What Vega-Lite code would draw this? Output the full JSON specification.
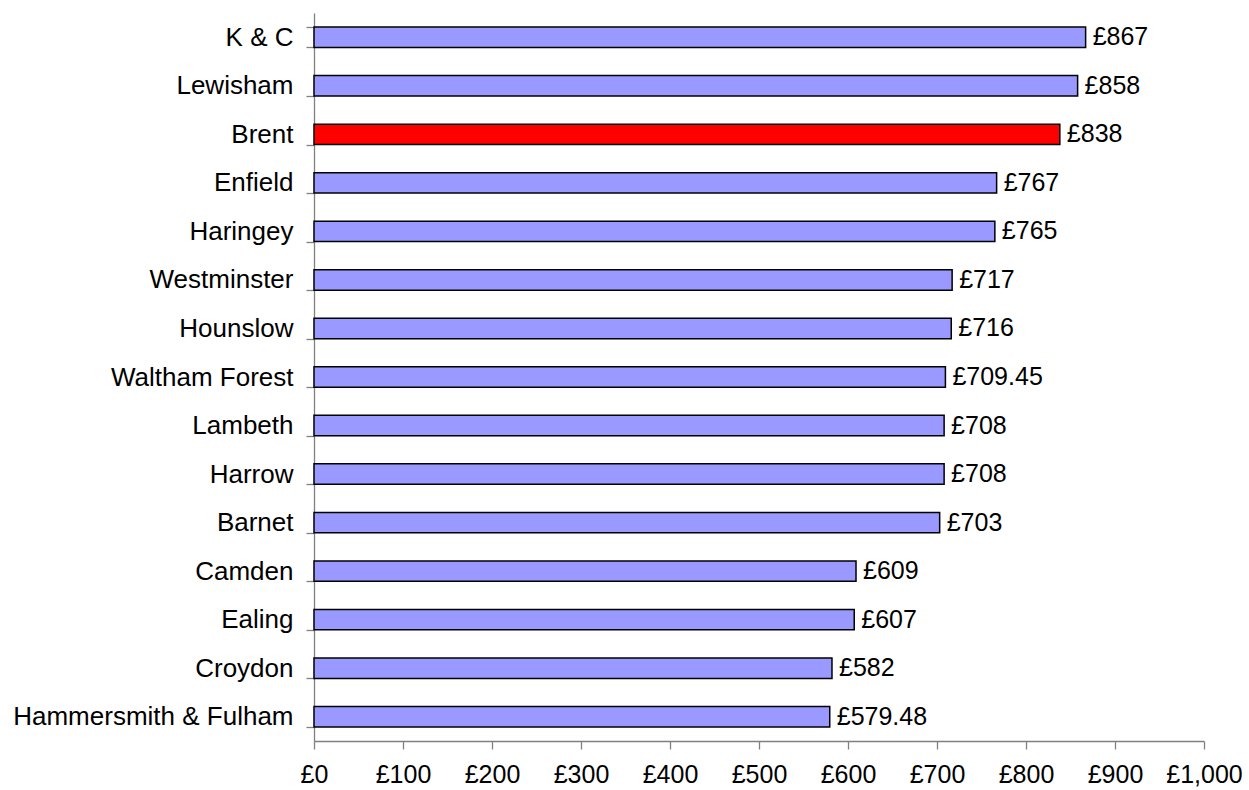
{
  "$schema": "https://vega.github.io/schema/vega-lite/v6.json",
  "width": 890,
  "height": 728,
  "autosize": {"type": "none"},
  "padding": {"left": 314, "top": 13, "right": 45, "bottom": 49},
  "background": "white",
  "config": {
    "view": {"stroke": null},
    "locale": {"number": {"decimal": ".", "thousands": ",", "grouping": [3], "currency": ["£", ""]}},
    "font": "Liberation Sans"
  },
  "data": {
    "values": [
      {"borough": "K & C", "value": 867, "highlight": "no"},
      {"borough": "Lewisham", "value": 858, "highlight": "no"},
      {"borough": "Brent", "value": 838, "highlight": "yes"},
      {"borough": "Enfield", "value": 767, "highlight": "no"},
      {"borough": "Haringey", "value": 765, "highlight": "no"},
      {"borough": "Westminster", "value": 717, "highlight": "no"},
      {"borough": "Hounslow", "value": 716, "highlight": "no"},
      {"borough": "Waltham Forest", "value": 709.45, "highlight": "no"},
      {"borough": "Lambeth", "value": 708, "highlight": "no"},
      {"borough": "Harrow", "value": 708, "highlight": "no"},
      {"borough": "Barnet", "value": 703, "highlight": "no"},
      {"borough": "Camden", "value": 609, "highlight": "no"},
      {"borough": "Ealing", "value": 607, "highlight": "no"},
      {"borough": "Croydon", "value": 582, "highlight": "no"},
      {"borough": "Hammersmith & Fulham", "value": 579.48, "highlight": "no"}
    ]
  },
  "encoding": {
    "y": {
      "field": "borough",
      "type": "nominal",
      "sort": null,
      "scale": {"paddingInner": 0.58, "paddingOuter": 0.29},
      "axis": {
        "title": null,
        "tickBand": "extent",
        "domainColor": "#808080",
        "domainWidth": 1.3,
        "tickColor": "#808080",
        "tickWidth": 1.3,
        "tickSize": 8,
        "labelPadding": 13,
        "labelFontSize": 26,
        "labelLimit": 400,
        "labelFont": "Liberation Sans",
        "labelColor": "black"
      }
    },
    "x": {
      "field": "value",
      "type": "quantitative",
      "scale": {"domain": [0, 1000], "nice": false},
      "axis": {
        "title": null,
        "values": [0, 100, 200, 300, 400, 500, 600, 700, 800, 900, 1000],
        "format": "$,.0f",
        "grid": false,
        "domainColor": "#808080",
        "domainWidth": 1.3,
        "tickColor": "#808080",
        "tickWidth": 1.3,
        "tickSize": 8,
        "labelPadding": 13,
        "labelFontSize": 25,
        "labelFont": "Liberation Sans",
        "labelColor": "black",
        "labelFlush": false
      }
    }
  },
  "layer": [
    {
      "mark": {"type": "bar", "stroke": "black", "strokeWidth": 1.5},
      "encoding": {
        "color": {
          "field": "highlight",
          "type": "nominal",
          "scale": {"domain": ["no", "yes"], "range": ["#9999FF", "#FF0000"]},
          "legend": null
        }
      }
    },
    {
      "mark": {"type": "text", "align": "left", "baseline": "middle", "dx": 7, "fontSize": 25, "font": "Liberation Sans", "color": "black"},
      "encoding": {
        "text": {"field": "value", "type": "quantitative", "format": "$,.2~f"}
      }
    }
  ]
}
